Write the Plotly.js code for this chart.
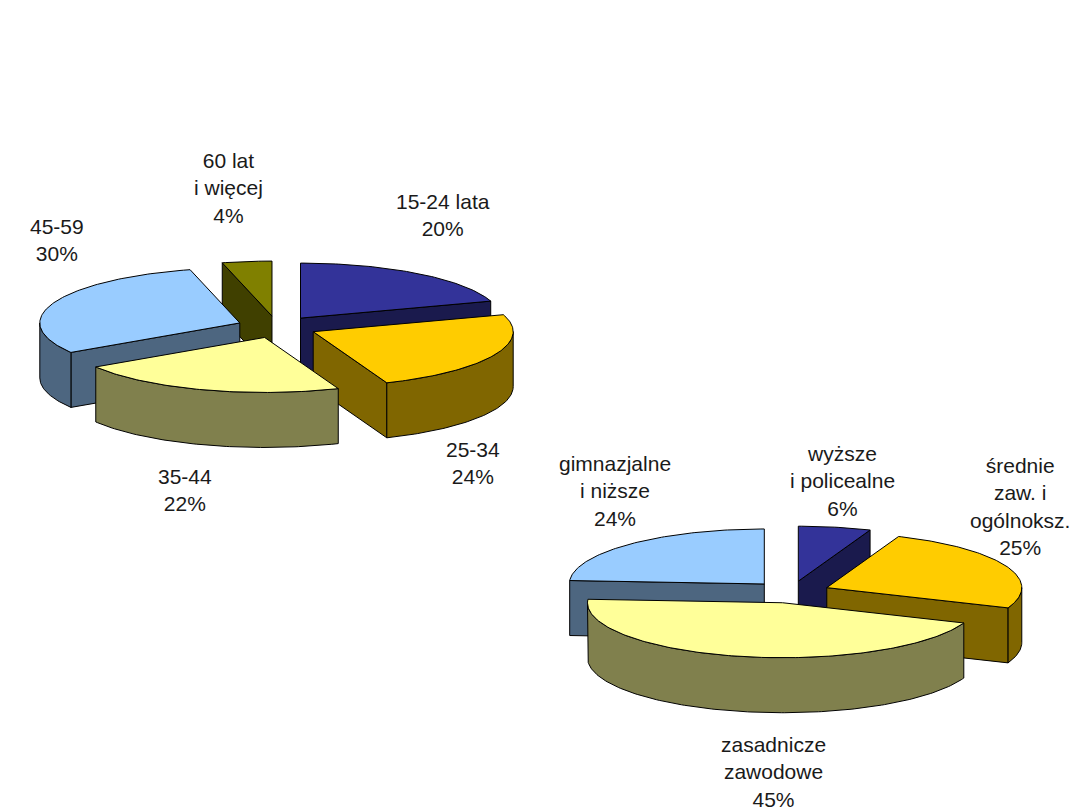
<!DOCTYPE html>
<html>
<head>
<meta charset="utf-8">
<script src="https://cdn.plot.ly/plotly-3.0.1.min.js"></script>
<style>html,body{margin:0;padding:0;background:#fff;}#chart{width:1080px;height:810px;}</style>
</head>
<body>
<div id="chart"></div>
<script>
// ---- data ----
const ageLabels = ['15-24 lata', '25-34', '35-44', '45-59', '60 lat<br>i więcej'];
const ageValues = [20, 24, 22, 30, 4];
const ageColors = ['#333399', '#FFCC00', '#FFFF99', '#99CCFF', '#808000'];

const eduLabels = ['wyższe<br>i policealne', 'średnie<br>zaw. i<br>ogólnoksz.', 'zasadnicze<br>zawodowe', 'gimnazjalne<br>i niższe'];
const eduValues = [6, 25, 45, 24];
const eduColors = ['#333399', '#FFCC00', '#FFFF99', '#99CCFF'];

// ---- drawing helpers ----
function rad(a) { return a * Math.PI / 180; }
function darken(hex, f) {
  const n = parseInt(hex.slice(1), 16);
  const r = Math.round(((n >> 16) & 255) * f), g = Math.round(((n >> 8) & 255) * f), b = Math.round((n & 255) * f);
  return 'rgb(' + r + ',' + g + ',' + b + ')';
}
function poly(pts, color) {
  return {
    type: 'scatter', mode: 'lines', fill: 'toself', fillcolor: color,
    x: pts.map(p => p[0]), y: pts.map(p => p[1]),
    line: { color: '#000000', width: 1 }, hoverinfo: 'skip', showlegend: false
  };
}
function pie3d(values, colors, g) {
  const total = values.reduce((s, v) => s + v, 0);
  let cum = 0;
  const slices = [];
  values.forEach((v, i) => {
    const a = cum / total * 360; cum += v; const b = cum / total * 360;
    slices.push({ i: i, a: a, b: b, m: (a + b) / 2 });
  });
  // back slices first
  slices.sort((s, t) => Math.cos(rad(t.m)) - Math.cos(rad(s.m)));
  const traces = [];
  slices.forEach(s => {
    const top = colors[s.i], side = darken(colors[s.i], 0.5);
    const ox = g.cx + g.pull * g.R * Math.sin(rad(s.m));
    const oy = g.cy - g.pull * g.r * Math.cos(rad(s.m));
    const pt = (phi, h) => [ox + g.R * Math.sin(rad(phi)), oy - g.r * Math.cos(rad(phi)) + h];
    const arc = (p0, p1, h) => {
      const out = []; const n = Math.max(2, Math.ceil(Math.abs(p1 - p0)));
      for (let k = 0; k <= n; k++) out.push(pt(p0 + (p1 - p0) * k / n, h));
      return out;
    };
    // radial walls
    if (Math.sin(rad(s.a)) < 0) {
      traces.push(poly([[ox, oy], pt(s.a, 0), pt(s.a, g.depth), [ox, oy + g.depth], [ox, oy]], side));
    }
    if (Math.sin(rad(s.b)) > 0) {
      traces.push(poly([[ox, oy], pt(s.b, 0), pt(s.b, g.depth), [ox, oy + g.depth], [ox, oy]], side));
    }
    // outer wall (front half of the rim)
    const lo = Math.max(s.a, 90), hi = Math.min(s.b, 270);
    if (hi > lo) {
      const upper = arc(lo, hi, 0), lower = arc(hi, lo, g.depth);
      const pts = upper.concat(lower); pts.push(upper[0]);
      traces.push(poly(pts, side));
    }
    // top face
    const face = [[ox, oy]].concat(arc(s.a, s.b, 0)); face.push([ox, oy]);
    traces.push(poly(face, top));
  });
  return traces;
}

const topGeom = { cx: 277, cy: 327, R: 200, r: 55, depth: 55, pull: 0.2 };
const botGeom = { cx: 791, cy: 592, R: 195, r: 55, depth: 55, pull: 0.2 };

const traces = pie3d(ageValues, ageColors, topGeom).concat(pie3d(eduValues, eduColors, botGeom));

// ---- labels ----
function pctText(labels, values) {
  const total = values.reduce((s, v) => s + v, 0);
  return labels.map((l, i) => l + '<br>' + Math.round(values[i] / total * 100) + '%');
}
const ageText = pctText(ageLabels, ageValues);
const eduText = pctText(eduLabels, eduValues);
const ageLabelPos = [[443, 215], [473, 463], [185, 490], [57, 240], [228, 188]];
const eduLabelPos = [[842, 481], [1020, 506], [773, 772], [615, 491]];

const font = { family: 'Liberation Sans, Arial, sans-serif', size: 21, color: '#1a1a1a' };
const annotations = [];
ageText.forEach((t, i) => annotations.push({ x: ageLabelPos[i][0], y: ageLabelPos[i][1], xref: 'x', yref: 'y', text: t, showarrow: false, font: font, align: 'center', xanchor: 'center', yanchor: 'middle' }));
eduText.forEach((t, i) => annotations.push({ x: eduLabelPos[i][0], y: eduLabelPos[i][1], xref: 'x', yref: 'y', text: t, showarrow: false, font: font, align: 'center', xanchor: 'center', yanchor: 'middle' }));

const layout = {
  width: 1080, height: 810,
  margin: { l: 0, r: 0, t: 0, b: 0 },
  paper_bgcolor: '#ffffff', plot_bgcolor: '#ffffff',
  xaxis: { range: [0, 1080], visible: false, fixedrange: true },
  yaxis: { range: [810, 0], visible: false, fixedrange: true },
  showlegend: false,
  annotations: annotations
};

Plotly.newPlot('chart', traces, layout, { staticPlot: true, displayModeBar: false });
</script>
</body>
</html>
